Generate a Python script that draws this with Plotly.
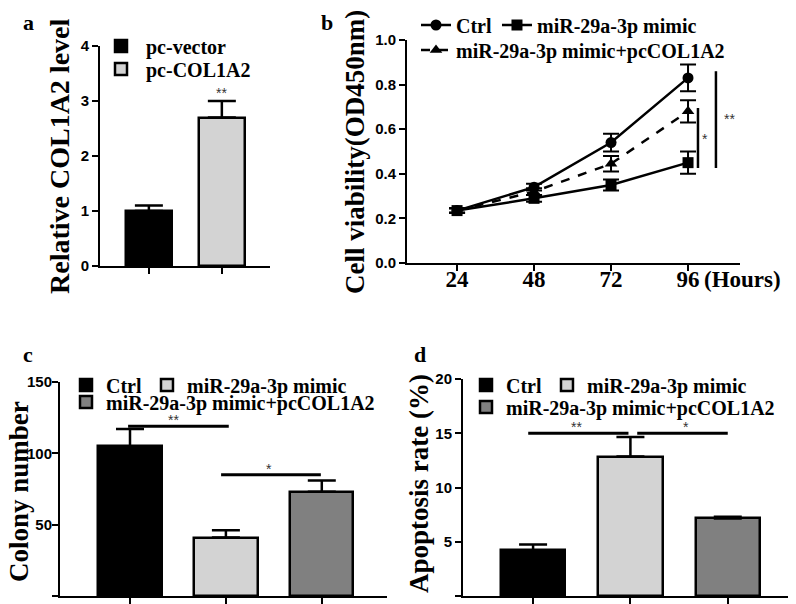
import plotly.graph_objects as go

# ---- data ----
# a: relative COL1A2 level
a_groups = ["pc-vector", "pc-COL1A2"]
a_values = [1.0, 2.7]
a_err = [0.1, 0.3]

# b: cell viability (OD450nm) over time
b_hours = [24, 48, 72, 96]
b_ctrl = [0.235, 0.34, 0.54, 0.83]
b_ctrl_err = [0.01, 0.015, 0.04, 0.06]
b_mimic = [0.235, 0.29, 0.35, 0.45]
b_mimic_err = [0.01, 0.015, 0.025, 0.05]
b_combo = [0.235, 0.32, 0.445, 0.68]
b_combo_err = [0.01, 0.015, 0.035, 0.05]

groups3 = ["Ctrl", "miR-29a-3p mimic", "miR-29a-3p mimic+pcCOL1A2"]
# c: colony number
c_values = [105, 41, 73]
c_err = [12, 5, 8]
# d: apoptosis rate (%)
d_values = [4.2, 12.85, 7.15]
d_err = [0.55, 1.8, 0.15]

bar_colors = ["#000000", "#d3d3d3", "#808080"]

# the page body adds an 8px margin, so the figure is drawn 8px in and 8px smaller
OFF = 8
W, H = 796 - OFF, 604 - OFF
SERIF = "Liberation Serif"
SANS = "Liberation Sans"


def fx(px):
    return (px - OFF) / W


def fy(py):
    return 1 - (py - OFF) / H


fig = go.Figure()

# ---- panel a ----
a_legs = ["legend", "legend8"]
for i in range(2):
    fig.add_trace(go.Bar(
        x=[i], y=[a_values[i]], name=a_groups[i], width=0.63,
        marker=dict(color=bar_colors[i], line=dict(color="black", width=2.5)),
        error_y=dict(type="data", symmetric=False, array=[a_err[i]], arrayminus=[0],
                     color="black", thickness=2.5, width=14),
        xaxis="x", yaxis="y", legend=a_legs[i]))

# ---- panel b ----
b_series = [
    ("Ctrl", b_ctrl, b_ctrl_err, "circle", "solid", "legend2"),
    ("miR-29a-3p mimic", b_mimic, b_mimic_err, "square", "solid", "legend2"),
    ("miR-29a-3p mimic+pcCOL1A2", b_combo, b_combo_err, "triangle-up", "dash", "legend3"),
]
for name, vals, errs, sym, dash, leg in b_series:
    fig.add_trace(go.Scatter(
        x=b_hours, y=vals, name=name, mode="lines+markers",
        line=dict(color="black", width=2.5, dash=dash),
        marker=dict(symbol=sym, size=11, color="black"),
        error_y=dict(type="data", array=errs, color="black", thickness=2, width=8),
        xaxis="x2", yaxis="y2", legend=leg))

# ---- panels c and d ----
for vals, errs, xa, ya, legs in [(c_values, c_err, "x3", "y3", ["legend4", "legend4", "legend5"]),
                                 (d_values, d_err, "x4", "y4", ["legend6", "legend6", "legend7"])]:
    for i in range(3):
        fig.add_trace(go.Bar(
            x=[i], y=[vals[i]], name=groups3[i], width=0.66,
            marker=dict(color=bar_colors[i], line=dict(color="black", width=2.5)),
            error_y=dict(type="data", symmetric=False, array=[errs[i]], arrayminus=[0],
                         color="black", thickness=2.5, width=14),
            xaxis=xa, yaxis=ya, legend=legs[i]))

# ---- axes ----
axis_common = dict(showline=True, linecolor="black", linewidth=2, ticks="outside",
                   ticklen=6, tickwidth=2, tickcolor="black", showgrid=False,
                   zeroline=False, fixedrange=True)
ytick_font = dict(family=SANS, size=15, color="black", weight="bold")

fig.update_layout(
    xaxis=dict(axis_common, domain=[fx(100), fx(270)], range=[-0.67, 1.66],
               tickvals=[0, 1], ticktext=["", ""], anchor="y"),
    yaxis=dict(axis_common, domain=[fy(266), fy(46)], range=[0, 4], dtick=1,
               tickfont=ytick_font, anchor="x"),
    xaxis2=dict(axis_common, domain=[fx(407), fx(740)], range=[8.4, 112.2],
                tickvals=b_hours, ticklabelstandoff=-12,
                tickfont=dict(family=SERIF, size=23, color="black", weight="bold"),
                anchor="y2"),
    yaxis2=dict(axis_common, domain=[fy(263), fy(40)], range=[0, 1], dtick=0.2,
                tickformat=".1f", tickfont=ytick_font, anchor="x2"),
    xaxis3=dict(axis_common, domain=[fx(60), fx(387)], range=[-0.73, 2.68],
                tickvals=[0, 1, 2], ticktext=["", "", ""], anchor="y3"),
    yaxis3=dict(axis_common, domain=[fy(596), fy(382)], range=[0, 150], dtick=50,
                ticklabelstandoff=-3, tickfont=ytick_font, anchor="x3"),
    xaxis4=dict(axis_common, domain=[fx(463), fx(792)], range=[-0.72, 2.66],
                tickvals=[0, 1, 2], ticktext=["", "", ""], anchor="y4"),
    yaxis4=dict(axis_common, domain=[fy(596), fy(379)], range=[0, 20], dtick=5,
                tickfont=ytick_font, anchor="x4"),
)

# ---- legends (one legend per row) ----
leg_font = dict(family=SERIF, size=20, color="black", weight="bold")
leg_common = dict(font=leg_font, bgcolor="rgba(0,0,0,0)", xanchor="left", yanchor="middle",
                  itemclick=False, itemdoubleclick=False, tracegroupgap=0, orientation="h")
fig.update_layout(
    showlegend=True,
    legend=dict(leg_common, x=fx(96), y=fy(46), itemwidth=40),
    legend8=dict(leg_common, x=fx(96), y=fy(69), itemwidth=40),
    legend2=dict(leg_common, x=fx(416), y=fy(25)),
    legend3=dict(leg_common, x=fx(416), y=fy(50)),
    legend4=dict(leg_common, x=fx(66), y=fy(385)),
    legend5=dict(leg_common, x=fx(66), y=fy(402)),
    legend6=dict(leg_common, x=fx(466), y=fy(385)),
    legend7=dict(leg_common, x=fx(466), y=fy(407)),
)

# ---- significance marks ----
star_font = dict(family=SANS, size=14, color="#333333")
ann = []
ann.append(dict(x=1, y=a_values[1] + a_err[1], xref="x", yref="y", text="**",
                showarrow=False, yanchor="bottom", yshift=-2, font=star_font))

# b: vertical bracket lines (x, y0, y1, label, label x, label y)
b_sig = [(99.1, 0.426, 0.695, "*", 101.3, 0.555), (104.7, 0.426, 0.86, "**", 108.9, 0.645)]
for x0, y0, y1, lab, lx, ly in b_sig:
    fig.add_shape(type="line", xref="x2", yref="y2", x0=x0, x1=x0, y0=y0, y1=y1,
                  line=dict(color="black", width=2.5))
    ann.append(dict(x=lx, y=ly, xref="x2", yref="y2", text=lab, showarrow=False, font=star_font))

# c, d: horizontal bracket lines (x0, x1, y, label, label x)
c_sig = [(-0.02, 1.03, 119, "**", 0.45), (0.95, 1.99, 85, "*", 1.45)]
d_sig = [(-0.05, 0.98, 15, "**", 0.45), (1.07, 2.0, 15, "*", 1.57)]
for sig, xa, ya in [(c_sig, "x3", "y3"), (d_sig, "x4", "y4")]:
    for x0, x1, yv, lab, lx in sig:
        fig.add_shape(type="line", xref=xa, yref=ya, x0=x0, x1=x1, y0=yv, y1=yv,
                      line=dict(color="black", width=3))
        ann.append(dict(x=lx, y=yv, xref=xa, yref=ya, text=lab, showarrow=False,
                        yanchor="bottom", yshift=-4, font=star_font))

# ---- titles, panel letters ----
for text, cx, cy, size in [("Relative COL1A2 level", 59, 157, 28),
                           ("Cell viability(OD450nm)", 355, 152, 27),
                           ("Colony number", 19, 492, 27),
                           ("Apoptosis rate (%)", 419, 484, 27)]:
    ann.append(dict(x=fx(cx), y=fy(cy), xref="paper", yref="paper", text=text, textangle=-90,
                    showarrow=False, xanchor="center", yanchor="middle",
                    font=dict(family=SERIF, size=size, color="black", weight="bold")))
letter_font = dict(family=SERIF, size=22, color="black", weight="bold")
for text, cx, cy in [("a", 28, 22), ("b", 327, 22), ("c", 28, 354), ("d", 420, 354)]:
    ann.append(dict(x=fx(cx), y=fy(cy), xref="paper", yref="paper", text=text,
                    showarrow=False, xanchor="center", yanchor="middle", font=letter_font))
ann.append(dict(x=fx(702), y=fy(279), xref="paper", yref="paper", text="(Hours)",
                showarrow=False, xanchor="left", yanchor="middle",
                font=dict(family=SERIF, size=23, color="black", weight="bold")))

fig.update_layout(
    annotations=ann,
    width=W, height=H,
    margin=dict(l=0, r=0, t=0, b=0, autoexpand=False),
    paper_bgcolor="white", plot_bgcolor="white",
    bargap=0,
)

fig.write_html("out.html")
